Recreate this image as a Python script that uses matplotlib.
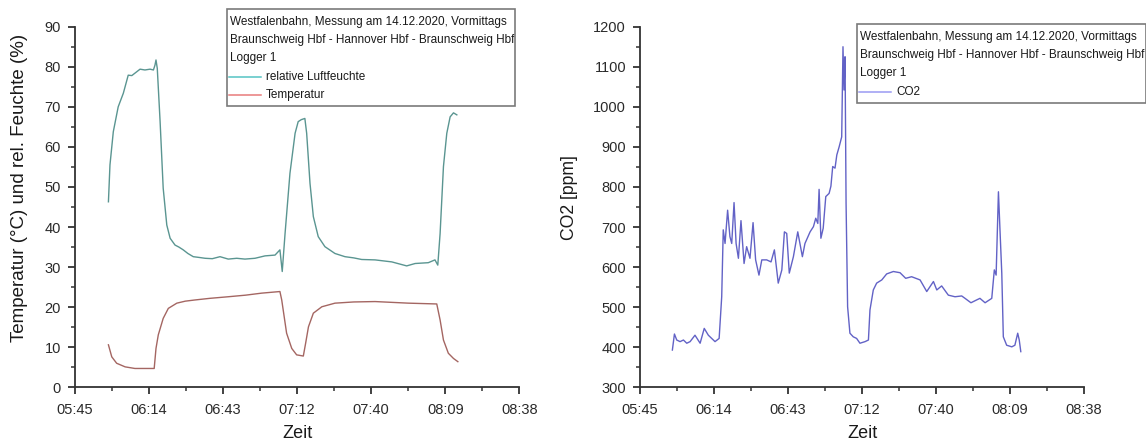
import numpy as np
import matplotlib
matplotlib.use("Agg")
import matplotlib.pyplot as plt
from matplotlib.lines import Line2D
from matplotlib.patches import Rectangle
from matplotlib.ticker import MultipleLocator, FixedLocator, FixedFormatter

plt.rcParams['font.family'] = ['Liberation Sans', 'DejaVu Sans']

# Logger 1, measurement times in minutes after midnight
rh_time = [358.6, 359.2, 360.5, 362.4, 364.4, 366.3, 367.7, 368.9, 370.9, 372.8,
           374.8, 376.1, 376.7, 377.1, 377.6, 378.7, 379.9, 381.3, 382.6, 384.5,
           386.0, 387.7, 389.5, 391.6, 394.0, 396.2, 399.0, 402.0, 405.2, 408.5,
           411.7, 415.6, 419.5, 423.4, 425.3, 426.2, 427.3, 429.2, 431.2, 432.4,
           433.6, 435.0, 435.7, 437.0, 438.3, 440.2, 442.8, 446.7, 450.6, 454.0,
           457.1, 462.3, 468.8, 474.6, 477.9, 483.0, 485.6, 486.7, 487.6, 488.9,
           490.2, 491.5, 492.8, 494.1]
rh_values = [46.3, 55.5, 63.8, 70.0, 73.4, 77.9, 77.8, 78.4, 79.4, 79.2,
             79.4, 79.2, 80.4, 81.7, 79.6, 66.3, 49.7, 40.5, 37.2, 35.5,
             35.0, 34.3, 33.4, 32.6, 32.4, 32.2, 32.1, 32.6, 32.0, 32.2,
             32.0, 32.2, 32.8, 33.0, 34.3, 28.9, 38.4, 53.4, 63.4, 66.3,
             66.8, 67.1, 63.4, 50.9, 42.6, 37.6, 35.1, 33.4, 32.6, 32.3,
             31.9, 31.8, 31.3, 30.3, 30.9, 31.1, 31.8, 30.5, 38.4, 55.1,
             63.4, 67.5, 68.5, 68.0]

temp_time = [358.6, 359.9, 361.8, 365.1, 368.9, 372.8, 376.4, 377.1, 378.0, 379.9,
             381.9, 385.2, 388.5, 392.3, 398.0, 405.2, 412.0, 418.2, 425.3, 426.0,
             427.9, 429.9, 431.8, 434.4, 435.3, 436.4, 438.3, 441.6, 446.7, 454.0,
             462.3, 475.3, 486.3, 487.6, 488.9, 490.8, 492.8, 494.5]
temp_values = [10.6, 7.6, 6.0, 5.1, 4.7, 4.7, 4.7, 9.7, 13.1, 17.2,
               19.7, 21.0, 21.5, 21.8, 22.2, 22.6, 23.0, 23.5, 23.9, 21.8,
               13.5, 9.7, 8.1, 7.8, 11.0, 15.1, 18.5, 20.1, 21.0, 21.3,
               21.4, 21.0, 20.8, 16.8, 11.8, 8.5, 7.2, 6.4]

co2_time = [358.2, 359.0, 359.9, 361.2, 362.5, 363.8, 365.1, 367.0, 369.0, 370.6,
            372.2, 373.5, 374.8, 376.4, 377.4, 378.0, 378.7, 379.7, 380.6, 381.3,
            382.2, 383.0, 383.9, 384.9, 386.1, 387.1, 388.4, 389.6, 390.6, 391.9,
            393.0, 394.9, 396.6, 397.9, 399.4, 400.8, 401.8, 402.7, 403.7, 405.3,
            407.0, 408.8, 409.8, 411.8, 413.1, 414.0, 414.8, 415.3, 416.0, 416.9,
            417.9, 419.2, 419.9, 420.6, 421.5, 422.2, 423.1, 424.1, 424.6, 425.0,
            425.4, 425.8, 426.4, 427.3, 428.6, 429.9, 431.2, 433.2, 434.5, 435.1,
            436.4, 437.7, 439.7, 441.6, 444.2, 446.8, 449.0, 451.3, 454.6, 457.2,
            459.8, 461.1, 463.0, 465.6, 468.2, 470.8, 472.1, 474.4, 476.6, 477.9,
            479.9, 482.5, 483.5, 484.2, 485.1, 485.7, 486.4, 487.0, 488.3, 490.3,
            491.5, 492.6, 493.2, 493.8]
co2_values = [393, 433, 418, 414, 418, 410, 414, 430, 410, 447,
              430, 422, 414, 422, 526, 693, 659, 742, 676, 659,
              761, 659, 622, 716, 609, 651, 622, 711, 618, 580,
              618, 618, 613, 643, 560, 593, 688, 684, 585, 626,
              688, 626, 659, 688, 701, 722, 709, 794, 672, 697,
              776, 784, 802, 851, 847, 880, 900, 925, 1150, 1042,
              1125, 759, 501, 435, 426, 422, 410, 414, 418, 493,
              543, 560, 568, 583, 589, 586, 572, 576, 568, 539,
              564, 543, 553, 530, 526, 528, 522, 511, 518, 522,
              511, 522, 593, 580, 788, 693, 585, 426, 405, 401,
              405, 435, 418, 389]

# time axis in fractions of a day, labelled as clock time
x_tick_days = [0.24, 0.26, 0.28, 0.30, 0.32, 0.34, 0.36]
x_tick_labels = ['05:45', '06:14', '06:43', '07:12', '07:40', '08:09', '08:38']

legend_header = ['Westfalenbahn, Messung am 14.12.2020, Vormittags',
                 'Braunschweig Hbf - Hannover Hbf - Braunschweig Hbf',
                 'Logger 1']

RH_COLOR = '#5a9591'
TEMP_COLOR = '#a46662'
CO2_COLOR = '#6262c6'
AX_COLOR = '#333333'

W, H = 1146, 441
fig = plt.figure(figsize=(W / 100, H / 100), dpi=100)


def px_axes(x0, x1, y_top, y_bot):
    return fig.add_axes([x0 / W, (H - y_bot) / H, (x1 - x0) / W, (y_bot - y_top) / H])


def style_axes(ax, ylim, ymajor, yminor):
    ax.set_xlim(0.24, 0.36)
    ax.set_ylim(*ylim)
    ax.xaxis.set_major_locator(FixedLocator(x_tick_days))
    ax.xaxis.set_major_formatter(FixedFormatter(x_tick_labels))
    ax.xaxis.set_minor_locator(MultipleLocator(0.01))
    ax.yaxis.set_major_locator(MultipleLocator(ymajor))
    ax.yaxis.set_minor_locator(MultipleLocator(yminor))
    for s in ('top', 'right'):
        ax.spines[s].set_visible(False)
    for s in ('left', 'bottom'):
        ax.spines[s].set_color(AX_COLOR)
        ax.spines[s].set_linewidth(1.3)
    ax.tick_params(which='major', direction='out', length=5, width=1.3,
                   color=AX_COLOR, labelcolor='#2a2a2a', labelsize=10.5)
    ax.tick_params(axis='x', which='major', pad=6)
    ax.tick_params(axis='y', which='major', pad=5)
    ax.tick_params(which='minor', direction='out', length=3, width=1.1, color=AX_COLOR)
    ax.set_xlabel('Zeit', fontsize=13, color='#1a1a1a')
    ax.xaxis.label.set_va('center')
    ax.xaxis.set_label_coords(0.5, -0.127)


def legend_box(x0, x1, y0, y1, row_y, text_x, entries):
    tf = fig.transFigure
    fig.patches.append(Rectangle((x0 / W, (H - y1) / H), (x1 - x0) / W, (y1 - y0) / H,
                                 transform=tf, fill=False, edgecolor='#7a7a7a',
                                 linewidth=1.2, zorder=5))
    rows = list(legend_header) + [e[0] for e in entries]
    for i, txt in enumerate(rows):
        yy = (H - row_y[i]) / H
        if i < len(legend_header):
            fig.text((x0 + 2.5) / W, yy, txt, fontsize=8.5, color='#1a1a1a',
                     va='center', ha='left')
        else:
            col = entries[i - len(legend_header)][1]
            fig.lines.append(Line2D([(x0 + 2) / W, (x0 + 34) / W], [yy, yy],
                                    transform=tf, color=col, linewidth=1.1))
            fig.text(text_x / W, yy, txt, fontsize=8.5, color='#1a1a1a',
                     va='center', ha='left')


# left panel: relative humidity and temperature
ax1 = px_axes(75, 519.3, 26.7, 387.3)
ax1.plot(np.array(rh_time) / 1440, rh_values, color=RH_COLOR, linewidth=1.0)
ax1.plot(np.array(temp_time) / 1440, temp_values, color=TEMP_COLOR, linewidth=1.0)
style_axes(ax1, (0, 90), 10, 5)
ax1.set_ylabel('Temperatur (°C) und rel. Feuchte (%)', fontsize=13.5, color='#1a1a1a')
ax1.yaxis.label.set_va('center')
ax1.yaxis.set_label_coords(-0.126, 0.554)

# right panel: CO2 concentration
ax2 = px_axes(640, 1084, 26.7, 387.3)
ax2.plot(np.array(co2_time) / 1440, co2_values, color=CO2_COLOR, linewidth=1.0)
style_axes(ax2, (300, 1200), 100, 50)
ax2.set_ylabel('CO2 [ppm]', fontsize=12.7, color='#1a1a1a')
ax2.yaxis.label.set_va('center')
ax2.yaxis.set_label_coords(-0.158, 0.526)

legend_box(227.3, 515, 9, 105.5, [21.7, 40, 58.3, 76.7, 95], 266,
           [('relative Luftfeuchte', '#55c4c4'), ('Temperatur', '#e87a7a')])
legend_box(857.3, 1145.5, 24, 102.7, [36.7, 55, 73.3, 91.7], 896.7,
           [('CO2', '#9a9af2')])

fig.savefig('out.png', dpi=100)
